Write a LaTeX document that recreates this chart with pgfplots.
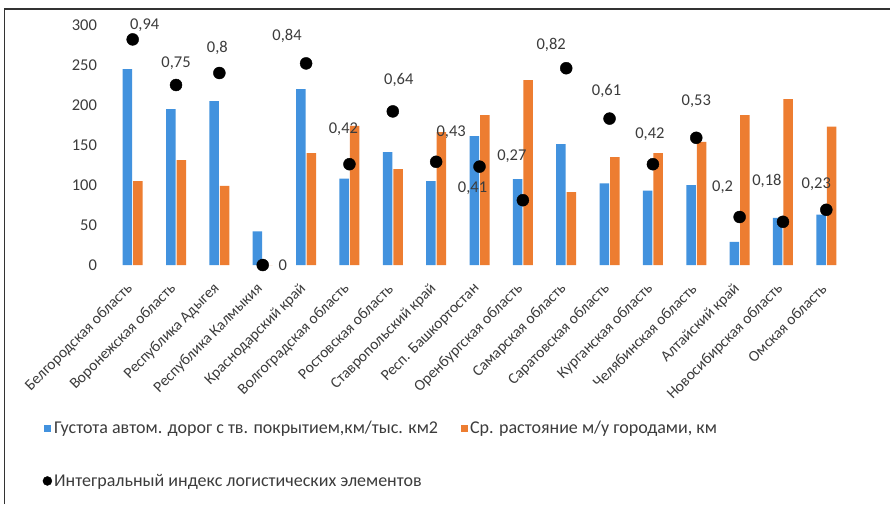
\documentclass[border=0pt]{standalone}
\usepackage{pgfplots}
\pgfplotsset{compat=1.18}
\usepackage{pgfplotstable}
\usepackage{fontspec}
\setmainfont{Carlito}
\definecolor{cblue}{RGB}{66,146,222}
\definecolor{corange}{RGB}{237,125,49}
\definecolor{ctext}{RGB}{60,60,60}
\pgfplotstableread{
x blue orange
0 245 105
1 195 131
2 205 99
3 42 0
4 220 140
5 108 174
6 141 120
7 105 166
8 161 187.5
9 107.5 231
10 151 91
11 102 135
12 93 140
13 100 154
14 29 187.5
15 59 207.5
16 63 173
}\bardata
\pgfplotstableread{
x idx dx dy
0 0.94 12 14
1 0.75 0 22
2 0.8 -2 25
3 0 20 0
4 0.84 -19 27
5 0.42 -6 35
6 0.64 6 31
7 0.43 15 30
8 0.41 -7 -22
9 0.27 -11 44
10 0.82 -15 23
11 0.61 -3 28
12 0.42 -3 30
13 0.53 0 37
14 0.2 -17 30
15 0.18 -16 41
16 0.23 -10 26
}\dotdata
\begin{document}
\begin{tikzpicture}
\useasboundingbox (0pt,0pt) rectangle (890pt,-504pt);
\fill[white] (0pt,0pt) rectangle (890pt,-504pt);
\draw[line width=1.4pt, black!80] (4.5pt,-504pt) -- (4.5pt,-9pt) -- (890pt,-9pt);
\begin{axis}[
  at={(111pt,-265pt)}, anchor=south west,
  scale only axis, width=737pt, height=240pt,
  xmin=-0.5, xmax=16.5, ymin=0, ymax=300,
  axis line style={draw=none},
  tick style={draw=none},
  ybar=1pt, bar width=9.5pt,
  ytick={0,50,...,300},
  xtick={0,...,16},
  xticklabels={Белгородская область,Воронежская область,Республика Адыгея,Республика Калмыкия,Краснодарский край,Волгоградская область,Ростовская область,Ставропольский край,Респ. Башкортостан,Оренбургская область,Самарская область,Саратовская область,Курганская область,Челябинская область,Алтайский край,Новосибирская область,Омская область},
  major tick length=0pt,
  tick label style={font=\fontsize{16.5}{19}\selectfont, text=ctext},
  yticklabel style={xshift=-10.5pt},
  xticklabel style={font=\fontsize{15.5}{18}\selectfont, xshift=0pt, yshift=-19pt, rotate=45, anchor=east},
  /pgf/number format/assume math mode=true,
  legend style={at={(axis description cs:-0.097,-0.633)}, anchor=north west, draw=none, fill=none,
    font=\fontsize{18}{21}\selectfont, text=ctext, legend columns=2, row sep=35pt,
    /tikz/every even column/.append style={column sep=21pt}},
  legend cell align=left,
]
\addplot[fill=cblue, draw=none, legend image code/.code={\fill[cblue] (0pt,-3.5pt) rectangle (7pt,3.5pt);}] table[x=x,y=blue] {\bardata};
\addlegendentry{Густота автом. дорог с тв. покрытием,км/тыс. км2}
\addplot[fill=corange, draw=none, legend image code/.code={\fill[corange] (0pt,-3.5pt) rectangle (7pt,3.5pt);}] table[x=x,y=orange] {\bardata};
\addlegendentry{Ср. растояние м/у городами, км}
\addlegendimage{legend image code/.code={\fill[black] (3.5pt,0pt) circle (4.5pt);}}
\addlegendentry{Интегральный индекс логистических элементов}
\end{axis}
\begin{axis}[
  at={(111pt,-265pt)}, anchor=south west,
  scale only axis, width=737pt, height=240pt,
  xmin=-0.5, xmax=16.5, ymin=0, ymax=1,
  hide axis, clip=false,
  /pgf/number format/assume math mode=true,
  /pgf/number format/use comma,
]
\addplot[only marks, mark=*, mark size=6pt, black,
  visualization depends on={\thisrow{dx}\as\ldx},
  visualization depends on={\thisrow{dy}\as\ldy},
  nodes near coords, point meta=explicit,
  every node near coord/.append style={anchor=center, xshift=\ldx pt, yshift=\ldy pt, font=\fontsize{16.5}{19}\selectfont, text=ctext},
] table[x=x, y=idx, meta=idx] {\dotdata};
\end{axis}
\end{tikzpicture}
\end{document}
